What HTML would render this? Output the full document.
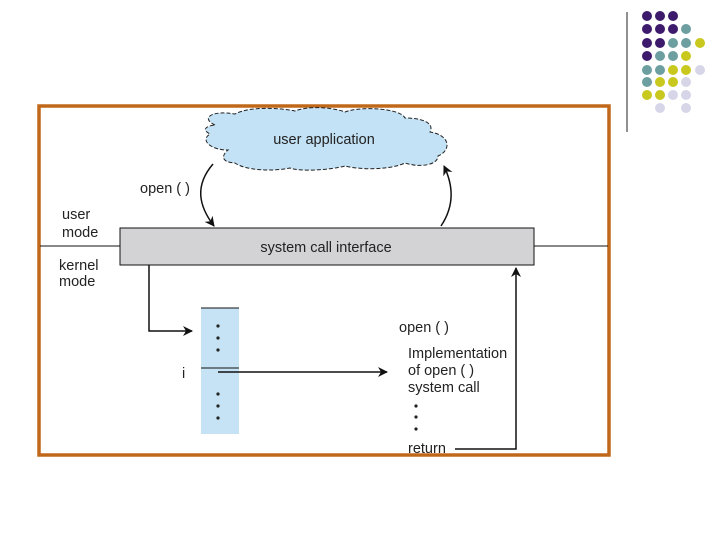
<!DOCTYPE html>
<html><head><style>
body{margin:0;background:#fff;}
svg{display:block;font-family:"Liberation Sans",Arial,sans-serif;}
text{font-size:14.5px;}
</style></head><body>
<svg width="720" height="540" viewBox="0 0 720 540" xmlns="http://www.w3.org/2000/svg">
<defs>
<marker id="ah" viewBox="0 0 10 10" refX="9" refY="5" markerWidth="15" markerHeight="10" orient="auto" markerUnits="userSpaceOnUse"><path d="M0,0 L10,5 L0,10 L3,5 z" fill="#111"/></marker>
</defs>
<line x1="627" y1="12" x2="627" y2="132" stroke="#222" stroke-width="1"/>
<g>
<circle cx="647" cy="16" r="5" fill="#3d1a6b"/><circle cx="660" cy="16" r="5" fill="#3d1a6b"/><circle cx="673" cy="16" r="5" fill="#3d1a6b"/>
<circle cx="647" cy="29" r="5" fill="#3d1a6b"/><circle cx="660" cy="29" r="5" fill="#3d1a6b"/><circle cx="673" cy="29" r="5" fill="#3d1a6b"/><circle cx="686" cy="29" r="5" fill="#6d9fa0"/>
<circle cx="647" cy="43" r="5" fill="#3d1a6b"/><circle cx="660" cy="43" r="5" fill="#3d1a6b"/><circle cx="673" cy="43" r="5" fill="#6d9fa0"/><circle cx="686" cy="43" r="5" fill="#6d9fa0"/><circle cx="700" cy="43" r="5" fill="#c8c81e"/>
<circle cx="647" cy="56" r="5" fill="#3d1a6b"/><circle cx="660" cy="56" r="5" fill="#6d9fa0"/><circle cx="673" cy="56" r="5" fill="#6d9fa0"/><circle cx="686" cy="56" r="5" fill="#c8c81e"/>
<circle cx="647" cy="70" r="5" fill="#6d9fa0"/><circle cx="660" cy="70" r="5" fill="#6d9fa0"/><circle cx="673" cy="70" r="5" fill="#c8c81e"/><circle cx="686" cy="70" r="5" fill="#c8c81e"/><circle cx="700" cy="70" r="5" fill="#d6d6e8"/>
<circle cx="647" cy="82" r="5" fill="#6d9fa0"/><circle cx="660" cy="82" r="5" fill="#c8c81e"/><circle cx="673" cy="82" r="5" fill="#c8c81e"/><circle cx="686" cy="82" r="5" fill="#d6d6e8"/>
<circle cx="647" cy="95" r="5" fill="#c8c81e"/><circle cx="660" cy="95" r="5" fill="#c8c81e"/><circle cx="673" cy="95" r="5" fill="#d6d6e8"/><circle cx="686" cy="95" r="5" fill="#d6d6e8"/>
<circle cx="660" cy="108" r="5" fill="#d6d6e8"/><circle cx="686" cy="108" r="5" fill="#d6d6e8"/>
</g>
<rect x="39" y="106" width="570" height="349" fill="none" stroke="#c0681a" stroke-width="3.5"/>
<path d="M215,125 C200,118 212,110 235,114 C250,106 280,108 295,111 C310,105 335,108 345,112 C360,106 400,108 405,118 C420,118 435,122 430,132 C450,135 452,150 438,156 C438,165 420,168 405,163 C390,170 360,170 345,166 C330,170 300,172 290,168 C270,172 245,170 235,163 C220,162 222,155 228,150 C210,150 200,140 210,134 C202,130 205,126 215,125 Z" fill="#c3e2f5" stroke="#222" stroke-width="1" stroke-dasharray="4,2"/>
<text x="324" y="144" text-anchor="middle" fill="#222">user application</text>
<path d="M213,164 C195,185 198,205 214,226" fill="none" stroke="#111" stroke-width="1.5" marker-end="url(#ah)"/>
<path d="M441,226 C455,205 453,185 444,166" fill="none" stroke="#111" stroke-width="1.5" marker-end="url(#ah)"/>
<text x="140" y="193" fill="#222">open ( )</text>
<text x="62" y="219" fill="#222">user</text>
<text x="62" y="237" fill="#222">mode</text>
<text x="59" y="270" fill="#222">kernel</text>
<text x="59" y="286" fill="#222">mode</text>
<line x1="40" y1="246" x2="120" y2="246" stroke="#111" stroke-width="1"/>
<line x1="534" y1="246" x2="608" y2="246" stroke="#111" stroke-width="1"/>
<rect x="120" y="228" width="414" height="37" fill="#d3d3d6" stroke="#111" stroke-width="1"/>
<text x="326" y="252" text-anchor="middle" fill="#222">system call interface</text>
<rect x="201" y="308" width="38" height="126" fill="#c5e3f5"/>
<line x1="201" y1="308" x2="239" y2="308" stroke="#111" stroke-width="1"/>
<line x1="201" y1="368" x2="239" y2="368" stroke="#111" stroke-width="1"/>
<g fill="#222"><circle cx="218" cy="326" r="1.6"/><circle cx="218" cy="338" r="1.6"/><circle cx="218" cy="350" r="1.6"/><circle cx="218" cy="394" r="1.6"/><circle cx="218" cy="406" r="1.6"/><circle cx="218" cy="418" r="1.6"/>
<circle cx="416" cy="406" r="1.6"/><circle cx="416" cy="417" r="1.6"/><circle cx="416" cy="429" r="1.6"/></g>
<polyline points="149,265 149,331 192,331" fill="none" stroke="#111" stroke-width="1.5" marker-end="url(#ah)"/>
<text x="182" y="378" fill="#222">i</text>
<line x1="218" y1="372" x2="387" y2="372" stroke="#111" stroke-width="1.5" marker-end="url(#ah)"/>
<text x="399" y="332" fill="#222">open ( )</text>
<text x="408" y="358" fill="#222">Implementation</text>
<text x="408" y="375" fill="#222">of open ( )</text>
<text x="408" y="392" fill="#222">system call</text>
<text x="408" y="453" fill="#222">return</text>
<polyline points="455,449 516,449 516,268" fill="none" stroke="#111" stroke-width="1.5" marker-end="url(#ah)"/>
</svg>
</body></html>
